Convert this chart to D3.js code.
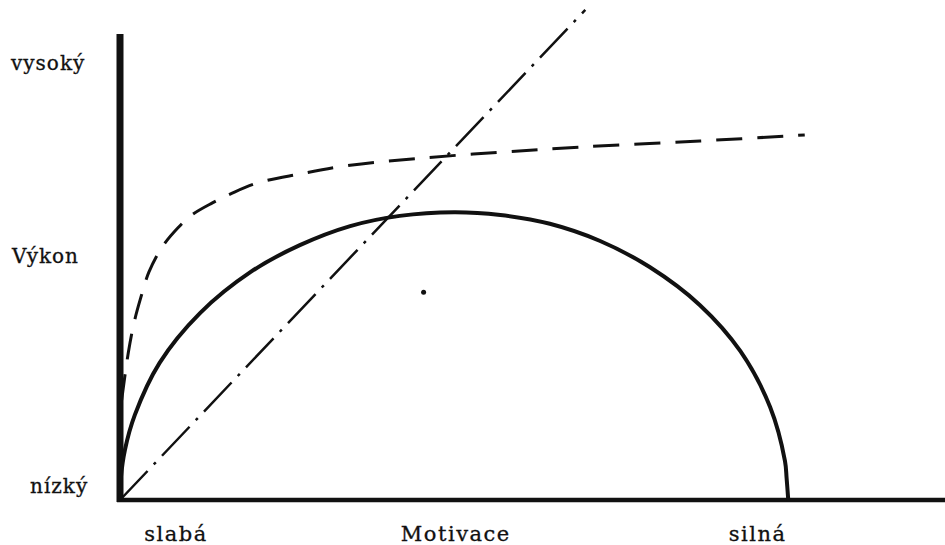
<!DOCTYPE html>
<html>
<head>
<meta charset="utf-8">
<script src="https://cdn.jsdelivr.net/npm/d3@7"></script>
<style>
  html, body { margin: 0; padding: 0; background: #fff; }
  svg { display: block; }
</style>
</head>
<body>
<div id="chart-area"></div>
<script>
// motivace (0-100) vs. výkon (0-100)
const solidCurve = [
  [0, 0], [0.1, 4.7], [0.6, 10.8], [1.8, 18.3], [4.8, 29.5], [9.7, 40.2],
  [15.8, 49.0], [21.8, 54.8], [27.9, 58.9], [33.9, 61.1], [40.5, 61.9],
  [46.1, 61.3], [52.1, 59.4], [58.2, 55.7], [64.2, 50.1], [70.3, 41.9],
  [75.2, 32.0], [78.8, 20.0], [80.6, 8.4], [80.8, 4.7], [81.0, 0]
];
const dashedCurve = [
  [0.2, 21.5], [1.0, 31.6], [1.7, 38.1], [2.5, 43.4], [3.5, 49.0], [5.1, 54.4],
  [7.0, 58.5], [8.7, 61.3], [11.2, 63.9], [13.6, 66.0], [16.7, 68.2],
  [21.8, 70.1], [27.9, 72.0], [36.4, 73.5], [46.1, 74.8], [55.8, 75.9],
  [70.3, 77.2], [83.0, 78.5]
];
const dashDotLine = [[0, 0], [56.4, 105.4]];
const strayDot = [[36.8, 44.7]];

const yLabels = ["vysoký", "Výkon", "nízký"];
const xLabels = ["slabá", "Motivace", "silná"];

const width = 945, height = 545;

let svg = d3.select('#chart-area')
  .append('svg')
  .attr('width', width)
  .attr('height', height);

const x = d3.scaleLinear().domain([0, 100]).range([120, 945]);
const y = d3.scaleLinear().domain([0, 100]).range([500, 35]);

const line = d3.line()
  .x(d => x(d[0]))
  .y(d => y(d[1]));

// axes (plain thick lines, no ticks)
svg.append('line')
  .attr('x1', x(0)).attr('x2', x(0))
  .attr('y1', y(0) + 2).attr('y2', y(100) - 1)
  .attr('stroke', '#111').attr('stroke-width', 7);

svg.append('line')
  .attr('x1', x(0) - 3).attr('x2', x(100))
  .attr('y1', y(0)).attr('y2', y(0))
  .attr('stroke', '#111').attr('stroke-width', 4.5);

svg.append('path')
  .datum(solidCurve)
  .attr('d', line.curve(d3.curveCatmullRom.alpha(0.5)))
  .attr('fill', 'none')
  .attr('stroke', '#111')
  .attr('stroke-width', 4);

svg.append('path')
  .datum(dashedCurve)
  .attr('d', line.curve(d3.curveCatmullRom.alpha(0.5)))
  .attr('fill', 'none')
  .attr('stroke', '#111')
  .attr('stroke-width', 3)
  .attr('stroke-dasharray', '26,15');

svg.append('path')
  .datum(dashDotLine)
  .attr('d', line.curve(d3.curveLinear))
  .attr('fill', 'none')
  .attr('stroke', '#111')
  .attr('stroke-width', 2.5)
  .attr('stroke-dasharray', '40,9,3,9');

svg.selectAll('circle.dot')
  .data(strayDot)
  .join('circle')
  .attr('class', 'dot')
  .attr('cx', d => x(d[0]))
  .attr('cy', d => y(d[1]))
  .attr('r', 2.5)
  .attr('fill', '#111');

const font = "'DejaVu Serif', 'Liberation Serif', serif";

// left labels
const yLabelPos = [[11, 70], [12, 263], [30, 493]];
svg.selectAll('text.ylab')
  .data(yLabels)
  .join('text')
  .attr('class', 'ylab')
  .attr('x', (d, i) => yLabelPos[i][0])
  .attr('y', (d, i) => yLabelPos[i][1])
  .style('font-family', font)
  .style('font-size', '20px')
  .style('letter-spacing', '1px')
  .attr('fill', '#111')
  .attr('stroke', '#111')
  .attr('stroke-width', 0.3)
  .text(d => d);

// bottom labels
const xLabelPos = [6.8, 40.7, 77.3];
svg.selectAll('text.xlab')
  .data(xLabels)
  .join('text')
  .attr('class', 'xlab')
  .attr('x', (d, i) => x(xLabelPos[i]))
  .attr('y', 541)
  .attr('text-anchor', 'middle')
  .style('font-family', font)
  .style('font-size', '21px')
  .style('letter-spacing', '1.5px')
  .attr('fill', '#111')
  .attr('stroke', '#111')
  .attr('stroke-width', 0.3)
  .text(d => d);
</script>
</body>
</html>
